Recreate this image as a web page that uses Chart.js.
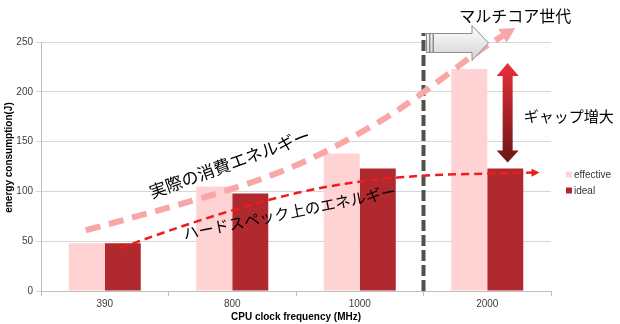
<!DOCTYPE html>
<html lang="ja">
<head>
  <meta charset="UTF-8">
  <title>CPU clock frequency vs energy consumption</title>
  <script src="https://cdn.jsdelivr.net/npm/chart.js"></script>
  <style>
    html, body { margin: 0; padding: 0; background: #ffffff; }
    #chart-container { width: 620px; height: 324px; position: relative; }
  </style>
</head>
<body>

  <div id="chart-container">
    <canvas id="energyChart"></canvas>
  </div>

  <script>
    const frequencies = ['390', '800', '1000', '2000'];
    const effective = [48, 105, 138, 223];
    const ideal = [48, 98, 123, 123];
    const yTicks = [0, 50, 100, 150, 200, 250];

    // guide curves, as [category index, joules]
    const actualTrend = [[-0.15, 61], [0.64, 88], [1.45, 121], [2.13, 167], [2.5, 199], [2.94, 242], [3.22, 264]];
    const specTrend = [[0.12, 43], [0.65, 68], [1.53, 101], [2.32, 116], [3.41, 119]];
    const multicoreStart = 2.5;          // between 1000 and 2000
    const gapArrow = { x: 3.16, from: 229, to: 129 };

    const notes = [
      { text: '実際の消費エネルギー', x: 0.98, y: 128, angle: -20, size: 17 },
      { text: 'ハードスペック上のエネルギー', x: 1.45, y: 79, angle: -11.5, size: 15.5 },
      { text: 'マルチコア世代', x: 3.22, y: 276, angle: 0, size: 16 },
      { text: 'ギャップ増大', x: 3.64, y: 175, angle: 0, size: 15 }
    ];

    const jpFont = '"Noto Sans CJK JP", "Noto Sans", sans-serif';
    const latinFont = '"Liberation Sans", Arial, sans-serif';

    function toPx(chart, p) {
      return [chart.scales.x.getPixelForValue(p[0]), chart.scales.y.getPixelForValue(p[1])];
    }

    function smoothPath(ctx, pts) {
      ctx.beginPath();
      ctx.moveTo(pts[0][0], pts[0][1]);
      for (let i = 1; i < pts.length - 1; i++) {
        const mx = (pts[i][0] + pts[i + 1][0]) / 2;
        const my = (pts[i][1] + pts[i + 1][1]) / 2;
        ctx.quadraticCurveTo(pts[i][0], pts[i][1], mx, my);
      }
      const last = pts[pts.length - 1];
      ctx.lineTo(last[0], last[1]);
    }

    function arrowHead(ctx, from, tip, len, half, color) {
      const a = Math.atan2(tip[1] - from[1], tip[0] - from[0]);
      ctx.save();
      ctx.translate(tip[0], tip[1]);
      ctx.rotate(a);
      ctx.fillStyle = color;
      ctx.beginPath();
      ctx.moveTo(0, 0);
      ctx.lineTo(-len, -half);
      ctx.lineTo(-len, half);
      ctx.closePath();
      ctx.fill();
      ctx.restore();
    }

    function trend(ctx, chart, data, color, width, dash, headLen, headHalf) {
      const pts = data.map(p => toPx(chart, p));
      const tip = pts[pts.length - 1];
      const prev = pts[pts.length - 2];
      const a = Math.atan2(tip[1] - prev[1], tip[0] - prev[0]);
      // stop the dashes short of the head
      const body = pts.slice(0, -1).concat([[tip[0] - Math.cos(a) * headLen * 0.8, tip[1] - Math.sin(a) * headLen * 0.8]]);
      ctx.save();
      ctx.strokeStyle = color;
      ctx.lineWidth = width;
      ctx.setLineDash(dash);
      smoothPath(ctx, body);
      ctx.stroke();
      ctx.restore();
      arrowHead(ctx, prev, tip, headLen, headHalf, color);
    }

    const overlay = {
      id: 'overlay',
      afterDatasetsDraw(chart) {
        const ctx = chart.ctx;
        const xs = chart.scales.x, ys = chart.scales.y;

        // multicore boundary
        const bx = xs.getPixelForValue(multicoreStart);
        ctx.save();
        ctx.strokeStyle = '#4f524a';
        ctx.lineWidth = 4;
        ctx.setLineDash([11, 4]);
        ctx.beginPath();
        ctx.moveTo(bx, ys.getPixelForValue(0));
        ctx.lineTo(bx, ys.getPixelForValue(259));
        ctx.stroke();
        ctx.restore();

        trend(ctx, chart, actualTrend, '#f8a7a6', 6, [15, 9], 15, 8);
        trend(ctx, chart, specTrend, '#ee1c1f', 2.5, [8, 5], 8, 4);

        // block arrow pointing into the multicore era
        const cy = ys.getPixelForValue(249);
        ctx.save();
        const g = ctx.createLinearGradient(0, cy - 17, 0, cy + 17);
        g.addColorStop(0, '#ffffff');
        g.addColorStop(1, '#d2d2d2');
        ctx.fillStyle = g;
        ctx.strokeStyle = '#8c8c8c';
        ctx.lineWidth = 1;
        ctx.fillRect(bx + 3, cy - 9.5, 3, 19);
        ctx.strokeRect(bx + 3, cy - 9.5, 3, 19);
        ctx.fillRect(bx + 6.5, cy - 9.5, 3, 19);
        ctx.strokeRect(bx + 6.5, cy - 9.5, 3, 19);
        ctx.beginPath();
        ctx.moveTo(bx + 10, cy - 9.5);
        ctx.lineTo(bx + 48.5, cy - 9.5);
        ctx.lineTo(bx + 48.5, cy - 17.5);
        ctx.lineTo(bx + 65, cy);
        ctx.lineTo(bx + 48.5, cy + 17.5);
        ctx.lineTo(bx + 48.5, cy + 9.5);
        ctx.lineTo(bx + 10, cy + 9.5);
        ctx.closePath();
        ctx.fill();
        ctx.stroke();
        ctx.restore();

        // gap between effective and ideal
        const gx = xs.getPixelForValue(gapArrow.x);
        const gt = ys.getPixelForValue(gapArrow.from);
        const gb = ys.getPixelForValue(gapArrow.to);
        ctx.save();
        const rg = ctx.createLinearGradient(0, gt, 0, gb);
        rg.addColorStop(0, '#ea2f3a');
        rg.addColorStop(1, '#6c1515');
        ctx.fillStyle = rg;
        ctx.beginPath();
        ctx.moveTo(gx, gt);
        ctx.lineTo(gx + 11, gt + 13);
        ctx.lineTo(gx + 5, gt + 13);
        ctx.lineTo(gx + 5, gb - 12);
        ctx.lineTo(gx + 11, gb - 12);
        ctx.lineTo(gx, gb);
        ctx.lineTo(gx - 11, gb - 12);
        ctx.lineTo(gx - 5, gb - 12);
        ctx.lineTo(gx - 5, gt + 13);
        ctx.lineTo(gx - 11, gt + 13);
        ctx.closePath();
        ctx.fill();
        ctx.restore();

        // annotations
        notes.forEach(n => {
          const [px, py] = toPx(chart, [n.x, n.y]);
          ctx.save();
          ctx.translate(px, py);
          ctx.rotate(n.angle * Math.PI / 180);
          ctx.font = n.size + 'px ' + jpFont;
          ctx.fillStyle = '#000000';
          ctx.textAlign = 'center';
          ctx.textBaseline = 'middle';
          ctx.fillText(n.text, 0, 0);
          ctx.restore();
        });

        // y axis title, sits a little above the axis middle
        ctx.save();
        ctx.translate(9, ys.getPixelForValue(134));
        ctx.rotate(-Math.PI / 2);
        ctx.font = 'bold 10px ' + latinFont;
        ctx.fillStyle = '#000000';
        ctx.textAlign = 'center';
        ctx.textBaseline = 'middle';
        ctx.fillText('energy consumption(J)', 0, 0);
        ctx.restore();

        // legend
        const lx = chart.chartArea.right + 15;
        ctx.save();
        ctx.font = '10px ' + latinFont;
        ctx.textBaseline = 'middle';
        ctx.textAlign = 'left';
        chart.data.datasets.forEach((ds, i) => {
          const ly = 175 + i * 16;
          ctx.fillStyle = ds.backgroundColor;
          ctx.fillRect(lx, ly - 3.5, 6, 6);
          ctx.fillStyle = '#333333';
          ctx.fillText(ds.label, lx + 8, ly);
        });
        ctx.restore();
      }
    };

    const ctx = document.getElementById('energyChart').getContext('2d');
    new Chart(ctx, {
      type: 'bar',
      data: {
        labels: frequencies,
        datasets: [
          {
            label: 'effective',
            data: effective,
            backgroundColor: '#ffd3d3',
            categoryPercentage: 0.565,
            barPercentage: 1.0
          },
          {
            label: 'ideal',
            data: ideal,
            backgroundColor: '#b0292f',
            categoryPercentage: 0.565,
            barPercentage: 1.0
          }
        ]
      },
      options: {
        responsive: true,
        maintainAspectRatio: false,
        animation: false,
        layout: { padding: { left: 0, right: 69, top: 42, bottom: 0 } },
        scales: {
          x: {
            afterFit(scale) { scale.height = 33; },
            grid: { offset: true, drawOnChartArea: false, tickLength: 5, color: '#bfbfbf' },
            border: { color: '#bfbfbf' },
            ticks: { color: '#404040', padding: 2, font: { family: latinFont, size: 10 } },
            title: {
              display: true,
              text: 'CPU clock frequency (MHz)',
              color: '#000000',
              padding: { top: 3, bottom: 1 },
              font: { family: latinFont, size: 10, weight: 'bold' }
            }
          },
          y: {
            min: yTicks[0],
            max: yTicks[yTicks.length - 1],
            afterFit(scale) { scale.width = 41; },
            afterBuildTicks(scale) { scale.ticks = yTicks.map(v => ({ value: v })); },
            grid: { color: '#d6d6d6', tickLength: 5 },
            border: { color: '#bfbfbf' },
            ticks: { color: '#404040', padding: 3, font: { family: latinFont, size: 10 } }
          }
        },
        plugins: {
          legend: { display: false },
          tooltip: { enabled: false }
        }
      },
      plugins: [overlay]
    });
  </script>

</body>
</html>
